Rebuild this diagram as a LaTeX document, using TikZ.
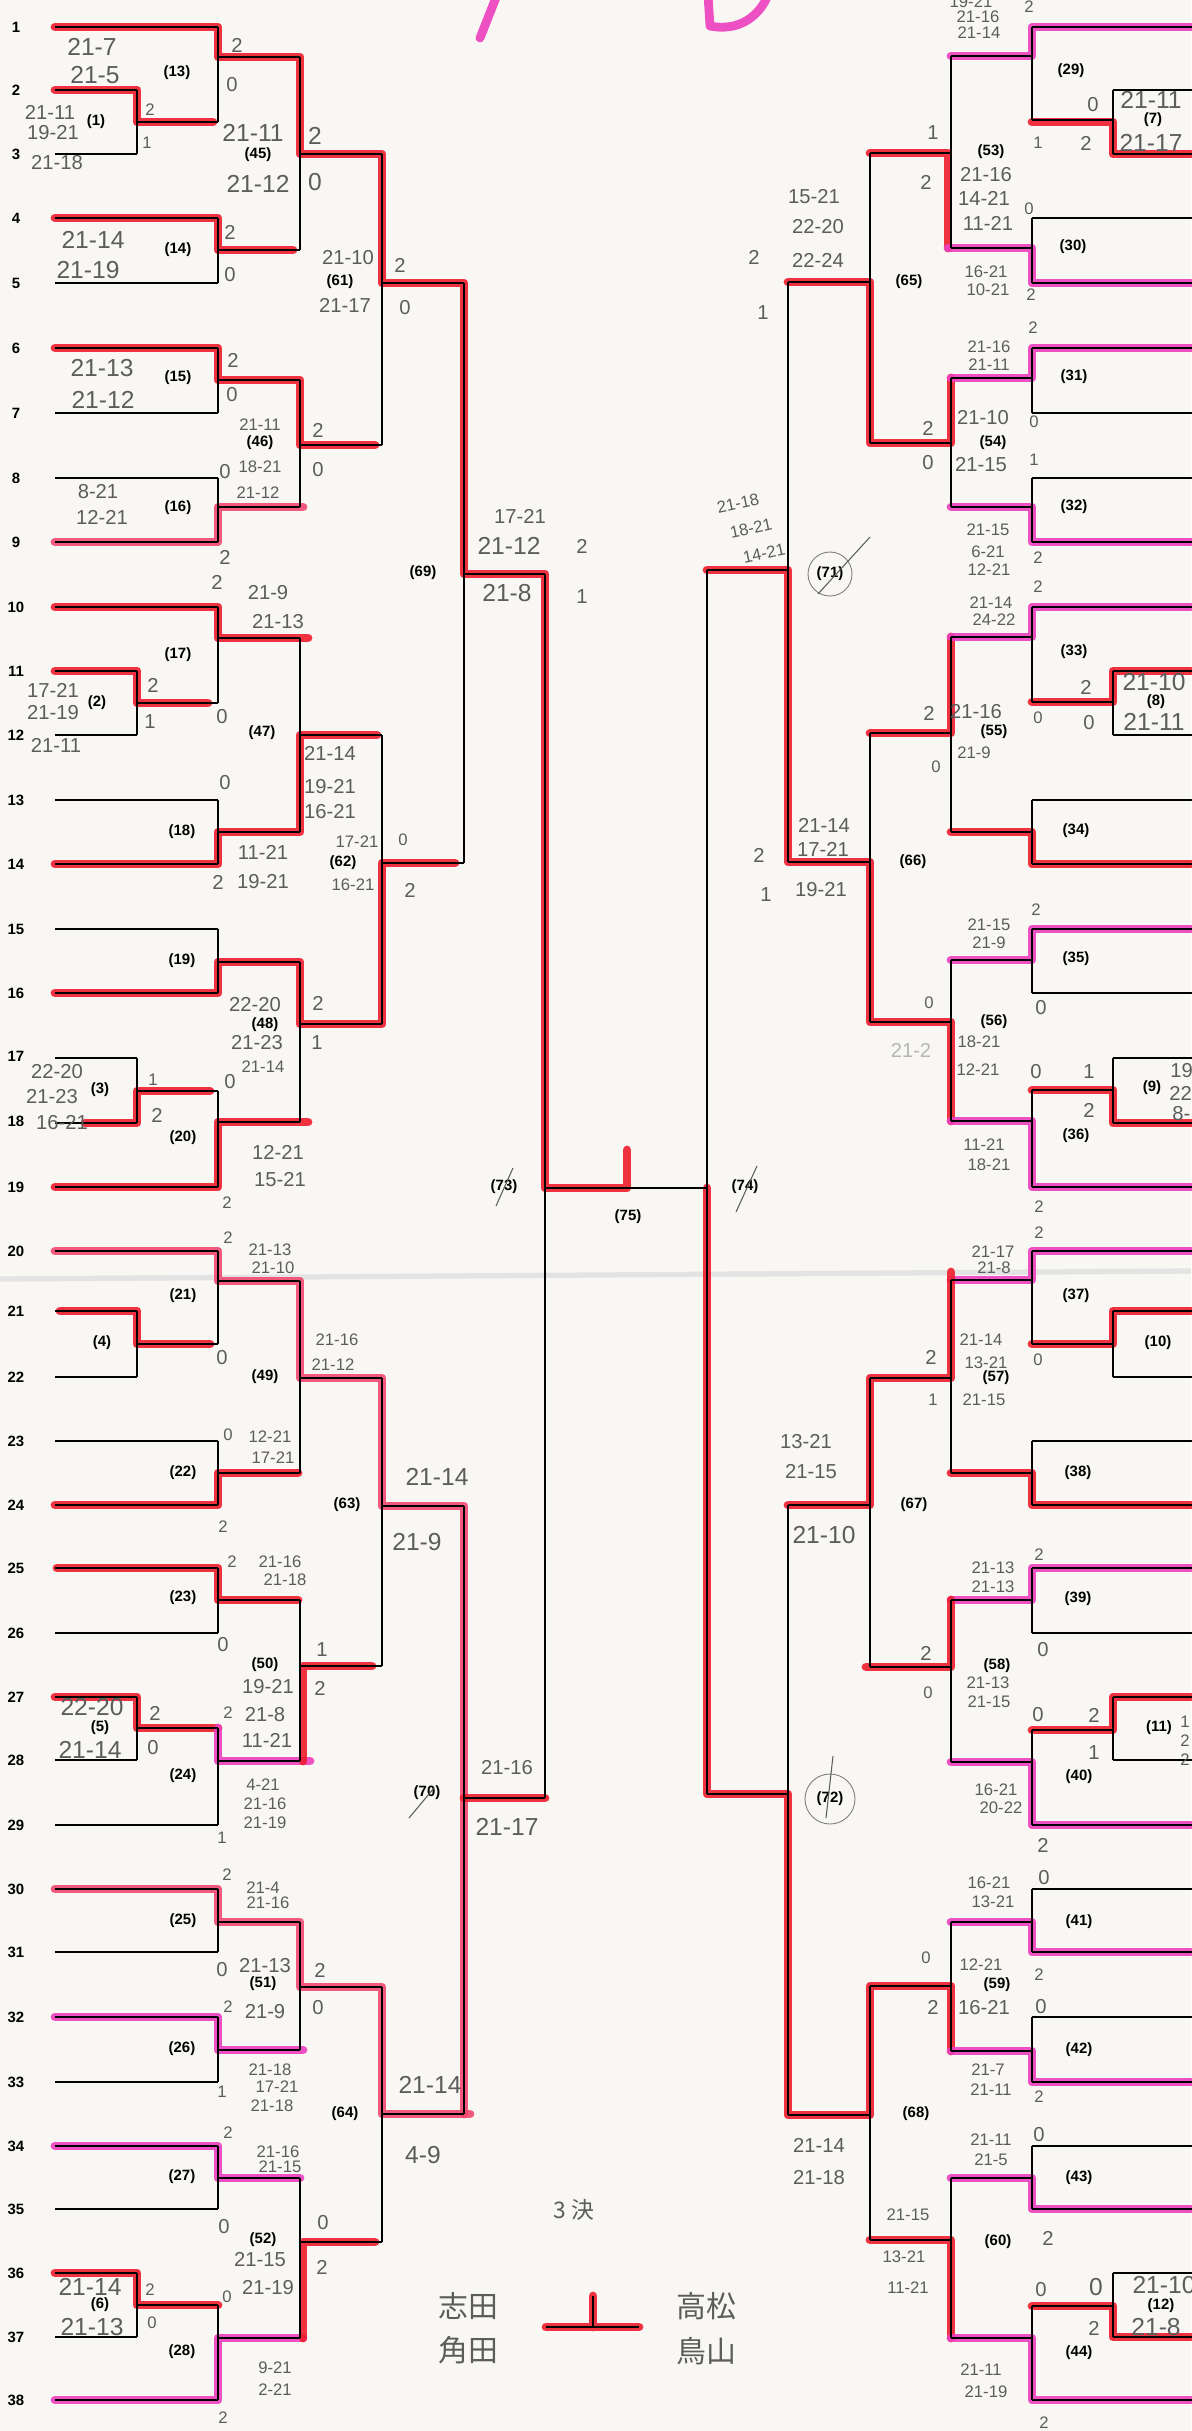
\documentclass[tikz,border=0pt]{standalone}
\usepackage{fontspec}
\setmainfont{Liberation Sans}
\newfontfamily\cjk{Noto Sans CJK JP}
\usepackage{tikz}
\usetikzlibrary{positioning, calc}
\definecolor{paper}{RGB}{248,247,243}
\definecolor{pencil}{RGB}{92,92,92}
\definecolor{hired}{RGB}{240,28,44}
\definecolor{himag}{RGB}{236,62,190}
\definecolor{hipink}{RGB}{242,72,112}
\newcounter{sc}
\newcommand\putscore[3][hwm]{\stepcounter{sc}\node[#1] (sc\arabic{sc}) at #2 {#3};}

\begin{document}
\begin{tikzpicture}[x=0.02cm, y=-0.02cm,
	br/.style={draw=black, line width=0.9pt},
	hr/.style={draw=hired, line width=5pt, line cap=round, line join=round, opacity=0.9},
	hm/.style={hr, draw=himag},
	hp/.style={hr, draw=hipink},
	rowno/.style={font=\bfseries\fontsize{8.5}{8.5}\selectfont, inner sep=0pt},
	mno/.style={font=\bfseries\fontsize{8.5}{8.5}\selectfont, inner sep=0pt},
	hwb/.style={text=pencil, font=\fontsize{14}{14}\selectfont, inner sep=0pt},
	hwm/.style={text=pencil, font=\fontsize{11.5}{11.5}\selectfont, inner sep=0pt},
	hws/.style={text=pencil, font=\fontsize{9.5}{9.5}\selectfont, inner sep=0pt},
	cjkt/.style={text=pencil, font=\cjk\fontsize{17}{17}\selectfont, inner sep=0pt}
	]
	\fill[paper] (0,0) rectangle (1191,2431);
	\useasboundingbox (0,0) rectangle (1191,2431);
	% fold of the sheet
	\draw[gray!22, line width=3pt] (0,1279) -- (1191,1271);

	% highlighted paths, left half
	\draw[hr] (55,27) -- (218,27) -- (218,57) -- (300,57) -- (300,154) -- (382,154) -- (382,283) -- (464,283) -- (464,574) -- (545,574) -- (545,1188) -- (627,1188) -- (627,1150);
	\draw[hr] (55,90) -- (137,90) -- (137,122) -- (213,122);
	\draw[hr] (55,218) -- (218,218) -- (218,250) -- (293,250);
	\draw[hr] (55,348) -- (218,348) -- (218,380) -- (300,380) -- (300,445) -- (375,445);
	\draw[hp] (55,542) -- (218,542) -- (218,507) -- (303,507);
	\draw[hr] (55,607) -- (218,607) -- (218,638) -- (308,638);
	\draw[hr] (55,671) -- (137,671) -- (137,703) -- (208,703);
	\draw[hr] (55,864) -- (218,864) -- (218,832) -- (300,832) -- (300,735) -- (377,735);
	\draw[hr] (55,993) -- (218,993) -- (218,962) -- (300,962) -- (300,1024) -- (382,1024) -- (382,863) -- (455,863);
	\draw[hr] (85,1123) -- (137,1123) -- (137,1091) -- (210,1091);
	\draw[hr] (55,1187) -- (218,1187) -- (218,1122) -- (308,1122);
	\draw[hp] (55,1251) -- (218,1251) -- (218,1281) -- (300,1281) -- (300,1378) -- (382,1378) -- (382,1506) -- (464,1506) -- (464,2114);
	\draw[hr] (464,1798) -- (545,1798);
	\draw[hr] (60,1311) -- (137,1311) -- (137,1344) -- (210,1344);
	\draw[hr] (55,1505) -- (218,1505) -- (218,1473) -- (298,1473);
	\draw[hr] (57,1568) -- (218,1568) -- (218,1600) -- (298,1600);
	\draw[hr] (55,1697) -- (137,1697) -- (137,1728) -- (218,1728);
	\draw[hm] (218,1728) -- (218,1761) -- (310,1761);
	\draw[hr] (303,1761) -- (303,1666) -- (372,1666);
	\draw[hp] (55,1889) -- (218,1889) -- (218,1922) -- (300,1922) -- (300,1987) -- (382,1987) -- (382,2114) -- (470,2114);
	\draw[hm] (55,2017) -- (218,2017) -- (218,2050) -- (303,2050);
	\draw[hm] (55,2146) -- (218,2146) -- (218,2178) -- (300,2178);
	\draw[hr] (55,2273) -- (137,2273) -- (137,2305) -- (218,2305);
	\draw[hm] (55,2400) -- (218,2400) -- (218,2338) -- (303,2338);
	\draw[hr] (303,2338) -- (303,2242) -- (375,2242);

	% highlighted paths, right half
	\draw[hm] (1200,27) -- (1032,27) -- (1032,56) -- (951,56);
	\draw[hr] (1200,154) -- (1113,154) -- (1113,122) -- (1032,122);
	\draw[hr] (870,153) -- (948,153) -- (948,248);
	\draw[hm] (948,248) -- (1032,248) -- (1032,283) -- (1200,283);
	\draw[hr] (788,282) -- (870,282) -- (870,443) -- (951,443) -- (951,378);
	\draw[hm] (951,378) -- (1032,378) -- (1032,348) -- (1200,348);
	\draw[hm] (951,507) -- (1032,507) -- (1032,542) -- (1200,542);
	\draw[hr] (707,570) -- (788,570) -- (788,862) -- (870,862) -- (870,1022) -- (951,1022) -- (951,1121);
	\draw[hm] (951,1121) -- (1032,1121) -- (1032,1187) -- (1200,1187);
	\draw[hr] (870,733) -- (951,733) -- (951,637);
	\draw[hm] (951,637) -- (1032,637) -- (1032,607) -- (1200,607);
	\draw[hr] (1200,671) -- (1113,671) -- (1113,702) -- (1032,702);
	\draw[hr] (951,832) -- (1032,832) -- (1032,864) -- (1200,864);
	\draw[hm] (951,960) -- (1032,960) -- (1032,929) -- (1200,929);
	\draw[hr] (1032,1090) -- (1113,1090) -- (1113,1123) -- (1200,1123);
	\draw[hm] (951,1280) -- (1032,1280) -- (1032,1251) -- (1200,1251);
	\draw[hr] (951,1272) -- (951,1378) -- (870,1378) -- (870,1505) -- (788,1505);
	\draw[hr] (1032,1344) -- (1113,1344) -- (1113,1311) -- (1200,1311);
	\draw[hr] (951,1473) -- (1032,1473) -- (1032,1505) -- (1200,1505);
	\draw[hm] (951,1600) -- (1032,1600) -- (1032,1568) -- (1200,1568);
	\draw[hr] (866,1667) -- (951,1667) -- (951,1600);
	\draw[hr] (1032,1730) -- (1113,1730) -- (1113,1697) -- (1200,1697);
	\draw[hm] (951,1762) -- (1032,1762) -- (1032,1825) -- (1200,1825);
	\draw[hr] (707,1188) -- (707,1794) -- (788,1794) -- (788,2115) -- (870,2115) -- (870,1986) -- (951,1986) -- (951,2051);
	\draw[hm] (951,2051) -- (1032,2051) -- (1032,2082) -- (1200,2082);
	\draw[hm] (951,1922) -- (1032,1922) -- (1032,1952) -- (1200,1952);
	\draw[hm] (951,2178) -- (1032,2178) -- (1032,2209) -- (1200,2209);
	\draw[hr] (870,2240) -- (951,2240) -- (951,2338);
	\draw[hm] (951,2338) -- (1032,2338) -- (1032,2400) -- (1200,2400);
	\draw[hr] (1032,2306) -- (1113,2306) -- (1113,2337) -- (1200,2337);

	% pink marks at the top
	\draw[hm, line width=5pt] (497,-5) -- (480,38);
	\draw[hm, line width=5pt] (708,-5) -- (710,26) .. controls (740,32) and (760,15) .. (768,-5);

	% player lines
	\foreach \y in {27,218,283,348,413,478,542,607,800,864,929,993,1187,1251,1441,1505,1568,1633,1825,1889,1952,2017,2082,2146,2209,2400}
		{\draw[br] (55,\y) -- (218,\y); \draw[br] (1032,\y) -- (1200,\y);}
	\foreach \y in {90,154,671,735,1058,1123,1311,1377,1697,1760,2273,2337}
		{\draw[br] (55,\y) -- (137,\y); \draw[br] (1113,\y) -- (1200,\y);}

	% bracket joints: x / top / bottom / out / next x
	\foreach \x/\ya/\yb/\yo/\xn in {
		137/90/154/122/218, 137/671/735/703/218, 137/1058/1123/1091/218, 137/1311/1377/1344/218, 137/1697/1760/1728/218, 137/2273/2337/2305/218,
		218/27/122/57/300, 218/218/283/250/300, 218/348/413/380/300, 218/478/542/507/300, 218/607/703/638/300, 218/800/864/832/300, 218/929/993/962/300, 218/1091/1187/1122/300,
		218/1251/1344/1281/300, 218/1441/1505/1473/300, 218/1568/1633/1600/300, 218/1728/1825/1761/300, 218/1889/1952/1922/300, 218/2017/2082/2050/300, 218/2146/2209/2178/300, 218/2305/2400/2338/300,
		300/57/250/154/382, 300/380/507/445/382, 300/638/832/735/382, 300/962/1122/1024/382, 300/1281/1473/1378/382, 300/1600/1761/1666/382, 300/1922/2050/1987/382, 300/2178/2338/2242/382,
		382/154/445/283/464, 382/735/1024/863/464, 382/1378/1666/1506/464, 382/1987/2242/2114/464,
		464/283/863/574/545, 464/1506/2114/1798/545, 545/574/1798/1188/707,
		1113/90/154/120/1032, 1113/671/735/702/1032, 1113/1058/1123/1090/1032, 1113/1311/1377/1344/1032, 1113/1697/1760/1730/1032, 1113/2273/2337/2306/1032,
		1032/27/120/56/951, 1032/218/283/248/951, 1032/348/413/378/951, 1032/478/542/507/951, 1032/607/702/637/951, 1032/800/864/832/951, 1032/929/993/960/951, 1032/1090/1187/1121/951,
		1032/1251/1344/1280/951, 1032/1441/1505/1473/951, 1032/1568/1633/1600/951, 1032/1730/1825/1762/951, 1032/1889/1952/1922/951, 1032/2017/2082/2051/951, 1032/2146/2209/2178/951, 1032/2306/2400/2338/951,
		951/56/248/153/870, 951/378/507/443/870, 951/637/832/733/870, 951/960/1121/1022/870, 951/1280/1473/1378/870, 951/1600/1762/1667/870, 951/1922/2051/1986/870, 951/2178/2338/2240/870,
		870/153/443/282/788, 870/733/1022/862/788, 870/1378/1667/1505/788, 870/1986/2240/2115/788,
		788/282/862/570/707, 788/1505/2115/1794/707, 707/570/1794/1188/545}
		\draw[br] (\x,\ya) -- (\x,\yb) (\x,\yo) -- (\xn,\yo);

	% row numbers
	\foreach \n/\y in {1/27,2/90,3/154,4/218,5/283,6/348,7/413,8/478,9/542,10/607,11/671,12/735,13/800,14/864,15/929,16/993,17/1056,18/1121,19/1187,
		20/1251,21/1311,22/1377,23/1441,24/1505,25/1568,26/1633,27/1697,28/1760,29/1825,30/1889,31/1952,32/2017,33/2082,34/2146,35/2209,36/2273,37/2337,38/2400}
		\node[rowno] (row\n) at (16,\y) {\n};

	% match numbers
	\foreach \m/\x/\y in {1/96/122, 2/97/703, 3/100/1090, 4/102/1343, 5/100/1728, 6/100/2305,
		13/177/73, 14/178/250, 15/178/378, 16/178/508, 17/178/655, 18/182/832, 19/182/961, 20/183/1138,
		21/183/1296, 22/183/1473, 23/183/1598, 24/183/1776, 25/183/1921, 26/182/2049, 27/182/2177, 28/182/2352,
		45/258/155, 46/260/443, 47/262/733, 48/265/1025, 49/265/1377, 50/265/1665, 51/263/1984, 52/263/2240,
		61/340/282, 62/343/863, 63/347/1505, 64/345/2114, 69/423/573, 70/427/1793, 73/504/1187, 75/628/1217,
		7/1153/120, 8/1156/702, 9/1152/1088, 10/1158/1343, 11/1159/1728, 12/1161/2306,
		29/1071/71, 30/1073/247, 31/1074/377, 32/1074/507, 33/1074/652, 34/1076/831, 35/1076/959, 36/1076/1136,
		37/1076/1296, 38/1078/1473, 39/1078/1599, 40/1079/1777, 41/1079/1922, 42/1079/2050, 43/1079/2178, 44/1079/2353,
		53/991/152, 54/993/443, 55/994/732, 56/994/1022, 57/996/1378, 58/997/1666, 59/997/1985, 60/998/2242,
		65/909/282, 66/913/862, 67/914/1505, 68/916/2114, 71/830/574, 72/830/1799, 74/745/1187}
		\node[mno] (m\m) at (\x,\y) {(\m)};
	\draw[pencil, line width=0.6pt] (496,1206) -- (513,1168);
	\draw[pencil, line width=0.6pt] (736,1212) -- (757,1166);
	\draw[pencil, line width=0.6pt] (409,1818) -- (434,1788);
	\draw[pencil!80, line width=0.5pt] (m71) circle [radius=22];
	\draw[pencil, line width=0.6pt] (818,594) -- (870,537);
	\draw[pencil!80, line width=0.5pt] (m72) circle [radius=25];
	\draw[pencil, line width=0.6pt] (833,1756) -- (826,1818);

	% scores, left half
	\putscore[hwb]{(92,47)}{21-7} \putscore[hwb]{(95,75)}{21-5} \putscore{(237,45)}{2} \putscore{(232,85)}{0}
	\putscore{(50,112)}{21-11} \putscore{(53,133)}{19-21} \putscore{(57,163)}{21-18} \putscore[hws]{(150,110)}{2} \putscore[hws]{(147,143)}{1}
	\putscore[hwb]{(253,133)}{21-11} \putscore[hwb]{(258,184)}{21-12} \putscore[hwb]{(315,136)}{2} \putscore[hwb]{(315,182)}{0}
	\putscore[hwb]{(93,240)}{21-14} \putscore[hwb]{(88,270)}{21-19} \putscore{(230,232)}{2} \putscore{(230,275)}{0}
	\putscore{(348,258)}{21-10} \putscore{(345,305)}{21-17} \putscore{(400,265)}{2} \putscore{(405,308)}{0}
	\putscore[hwb]{(102,368)}{21-13} \putscore[hwb]{(103,400)}{21-12} \putscore{(233,360)}{2} \putscore{(232,395)}{0}
	\putscore[hws]{(260,425)}{21-11} \putscore[hws]{(260,467)}{18-21} \putscore[hws]{(258,493)}{21-12} \putscore{(225,472)}{0} \putscore{(318,430)}{2} \putscore{(318,470)}{0}
	\putscore{(98,492)}{8-21} \putscore{(102,517)}{12-21} \putscore{(225,557)}{2}
	\putscore{(217,582)}{2} \putscore{(268,593)}{21-9} \putscore{(278,622)}{21-13} \putscore{(222,717)}{0}
	\putscore{(53,690)}{17-21} \putscore{(53,713)}{21-19} \putscore{(56,745)}{21-11} \putscore{(153,685)}{2} \putscore{(150,722)}{1}
	\putscore{(330,753)}{21-14} \putscore{(330,787)}{19-21} \putscore{(330,812)}{16-21} \putscore{(225,783)}{0}
	\putscore{(263,852)}{11-21} \putscore{(218,882)}{2} \putscore{(263,882)}{19-21}
	\putscore[hws]{(357,842)}{17-21} \putscore[hws]{(353,885)}{16-21} \putscore[hws]{(403,840)}{0} \putscore{(410,890)}{2}
	\putscore{(255,1005)}{22-20} \putscore{(257,1043)}{21-23} \putscore[hws]{(263,1067)}{21-14} \putscore{(230,1082)}{0} \putscore{(318,1003)}{2} \putscore{(317,1043)}{1}
	\putscore{(57,1072)}{22-20} \putscore{(52,1097)}{21-23} \putscore{(62,1123)}{16-21} \putscore[hws]{(153,1080)}{1} \putscore{(157,1115)}{2}
	\putscore{(278,1152)}{12-21} \putscore{(280,1180)}{15-21} \putscore[hws]{(227,1203)}{2}
	\putscore[hws]{(228,1238)}{2} \putscore[hws]{(270,1250)}{21-13} \putscore[hws]{(273,1268)}{21-10} \putscore{(222,1358)}{0}
	\putscore[hws]{(337,1340)}{21-16} \putscore[hws]{(333,1365)}{21-12}
	\putscore[hws]{(228,1435)}{0} \putscore[hws]{(270,1437)}{12-21} \putscore[hws]{(273,1458)}{17-21} \putscore[hws]{(223,1527)}{2}
	\putscore[hwb]{(437,1477)}{21-14} \putscore[hwb]{(417,1542)}{21-9}
	\putscore[hws]{(232,1562)}{2} \putscore[hws]{(280,1562)}{21-16} \putscore[hws]{(285,1580)}{21-18} \putscore{(223,1645)}{0}
	\putscore{(322,1650)}{1} \putscore{(320,1688)}{2} \putscore{(268,1687)}{19-21} \putscore[hws]{(228,1713)}{2} \putscore{(265,1715)}{21-8} \putscore{(267,1740)}{11-21}
	\putscore[hwb]{(92,1707)}{22-20} \putscore[hwb]{(90,1750)}{21-14} \putscore{(155,1713)}{2} \putscore{(153,1748)}{0}
	\putscore[hws]{(263,1785)}{4-21} \putscore[hws]{(265,1804)}{21-16} \putscore[hws]{(265,1823)}{21-19} \putscore[hws]{(222,1838)}{1}
	\putscore[hws]{(227,1875)}{2} \putscore[hws]{(263,1888)}{21-4} \putscore[hws]{(268,1903)}{21-16}
	\putscore{(222,1970)}{0} \putscore{(265,1966)}{21-13} \putscore{(320,1970)}{2} \putscore{(318,2008)}{0} \putscore[hws]{(228,2007)}{2} \putscore{(265,2012)}{21-9}
	\putscore[hws]{(270,2070)}{21-18} \putscore[hws]{(277,2087)}{17-21} \putscore[hws]{(272,2106)}{21-18} \putscore[hws]{(222,2092)}{1}
	\putscore[hwb]{(430,2085)}{21-14} \putscore[hwb]{(423,2155)}{4-9}
	\putscore[hws]{(228,2133)}{2} \putscore[hws]{(278,2152)}{21-16} \putscore[hws]{(280,2167)}{21-15} \putscore{(224,2227)}{0}
	\putscore{(323,2223)}{0} \putscore{(260,2260)}{21-15} \putscore[hws]{(227,2297)}{0} \putscore{(268,2288)}{21-19} \putscore{(322,2267)}{2}
	\putscore[hwb]{(90,2287)}{21-14} \putscore[hwb]{(92,2327)}{21-13} \putscore[hws]{(150,2290)}{2} \putscore[hws]{(152,2323)}{0}
	\putscore[hws]{(275,2368)}{9-21} \putscore[hws]{(275,2390)}{2-21} \putscore[hws]{(223,2418)}{2}
	\putscore{(520,516)}{17-21} \putscore[hwb]{(509,546)}{21-12} \putscore{(582,546)}{2} \putscore[hwb]{(507,593)}{21-8} \putscore{(582,597)}{1}
	\putscore{(507,1768)}{21-16} \putscore[hwb]{(507,1827)}{21-17}

	% scores, right half
	\putscore[hws]{(971,2)}{19-21} \putscore[hws]{(978,17)}{21-16} \putscore[hws]{(979,33)}{21-14} \putscore[hws]{(1029,7)}{2}
	\putscore{(1093,105)}{0} \putscore[hws]{(1038,143)}{1} \putscore{(1086,143)}{2}
	\putscore[hwb]{(1151,100)}{21-11} \putscore[hwb]{(1151,143)}{21-17}
	\putscore{(933,133)}{1} \putscore{(926,182)}{2} \putscore{(986,175)}{21-16} \putscore{(984,198)}{14-21} \putscore{(988,223)}{11-21} \putscore[hws]{(1029,209)}{0}
	\putscore[hws]{(986,272)}{16-21} \putscore[hws]{(988,290)}{10-21} \putscore[hws]{(1031,295)}{2}
	\putscore{(814,197)}{15-21} \putscore{(818,227)}{22-20} \putscore{(754,257)}{2} \putscore{(818,260)}{22-24} \putscore{(763,313)}{1}
	\putscore[hws]{(1033,328)}{2} \putscore[hws]{(989,347)}{21-16} \putscore[hws]{(989,365)}{21-11}
	\putscore{(983,418)}{21-10} \putscore{(928,428)}{2} \putscore{(928,463)}{0} \putscore{(981,465)}{21-15} \putscore[hws]{(1034,422)}{0} \putscore[hws]{(1034,460)}{1}
	\putscore[hws]{(988,530)}{21-15} \putscore[hws]{(988,552)}{6-21} \putscore[hws]{(989,570)}{12-21} \putscore[hws]{(1038,558)}{2}
	\putscore[hws, rotate=12]{(738,503)}{21-18} \putscore[hws, rotate=12]{(751,528)}{18-21} \putscore[hws, rotate=12]{(764,553)}{14-21}
	\putscore[hws]{(1038,587)}{2} \putscore[hws]{(991,603)}{21-14} \putscore[hws]{(994,620)}{24-22}
	\putscore{(1086,687)}{2} \putscore[hws]{(1038,718)}{0} \putscore{(1089,723)}{0} \putscore[hwb]{(1154,682)}{21-10} \putscore[hwb]{(1154,722)}{21-11}
	\putscore{(929,713)}{2} \putscore{(976,712)}{21-16} \putscore[hws]{(936,767)}{0} \putscore[hws]{(974,753)}{21-9}
	\putscore{(824,825)}{21-14} \putscore{(759,855)}{2} \putscore{(823,849)}{17-21} \putscore{(766,895)}{1} \putscore{(821,890)}{19-21}
	\putscore[hws]{(1036,910)}{2} \putscore[hws]{(989,925)}{21-15} \putscore[hws]{(989,943)}{21-9} \putscore{(1041,1008)}{0}
	\putscore[hws]{(929,1003)}{0} \putscore[hws]{(979,1042)}{18-21} \putscore[hws]{(978,1070)}{12-21} \putscore{(1036,1072)}{0} \putscore{(1089,1072)}{1} \putscore{(1089,1110)}{2}
	\putscore[hwm, text=pencil!45]{(911,1050)}{21-2}
	\putscore[hwm, anchor=west]{(1170,1071)}{19-} \putscore[hwm, anchor=west]{(1169,1093)}{22} \putscore[hwm, anchor=west]{(1172,1114)}{8-}
	\putscore[hws]{(984,1145)}{11-21} \putscore[hws]{(989,1165)}{18-21} \putscore[hws]{(1039,1207)}{2}
	\putscore[hws]{(1039,1233)}{2} \putscore[hws]{(993,1252)}{21-17} \putscore[hws]{(994,1268)}{21-8}
	\putscore{(931,1357)}{2} \putscore[hws]{(981,1340)}{21-14} \putscore[hws]{(986,1363)}{13-21} \putscore[hws]{(1038,1360)}{0} \putscore[hws]{(933,1400)}{1} \putscore[hws]{(984,1400)}{21-15}
	\putscore{(806,1442)}{13-21} \putscore{(811,1472)}{21-15} \putscore[hwb]{(824,1535)}{21-10}
	\putscore[hws]{(1039,1555)}{2} \putscore[hws]{(993,1568)}{21-13} \putscore[hws]{(993,1587)}{21-13}
	\putscore{(926,1653)}{2} \putscore[hws]{(928,1693)}{0} \putscore[hws]{(988,1683)}{21-13} \putscore[hws]{(989,1702)}{21-15}
	\putscore{(1043,1650)}{0} \putscore{(1038,1715)}{0} \putscore{(1094,1715)}{2} \putscore{(1094,1753)}{1}
	\putscore[hws, anchor=west]{(1180,1722)}{1} \putscore[hws, anchor=west]{(1180,1741)}{2} \putscore[hws, anchor=west]{(1180,1760)}{2}
	\putscore[hws]{(996,1790)}{16-21} \putscore[hws]{(1001,1808)}{20-22} \putscore{(1043,1845)}{2}
	\putscore[hws]{(989,1883)}{16-21} \putscore[hws]{(993,1902)}{13-21} \putscore{(1044,1878)}{0}
	\putscore[hws]{(926,1958)}{0} \putscore[hws]{(981,1965)}{12-21} \putscore[hws]{(1039,1975)}{2} \putscore{(933,2007)}{2} \putscore{(984,2008)}{16-21} \putscore{(1041,2007)}{0}
	\putscore[hws]{(988,2070)}{21-7} \putscore[hws]{(991,2090)}{21-11} \putscore[hws]{(1039,2097)}{2}
	\putscore{(819,2145)}{21-14} \putscore{(819,2178)}{21-18}
	\putscore{(1039,2135)}{0} \putscore[hws]{(991,2140)}{21-11} \putscore[hws]{(991,2160)}{21-5}
	\putscore[hws]{(908,2215)}{21-15} \putscore[hws]{(904,2257)}{13-21} \putscore[hws]{(908,2288)}{11-21} \putscore{(1048,2238)}{2}
	\putscore{(1041,2290)}{0} \putscore[hwb]{(1096,2287)}{0} \putscore{(1094,2328)}{2} \putscore[hwb]{(1164,2285)}{21-10} \putscore[hwb]{(1156,2327)}{21-8}
	\putscore[hws]{(981,2370)}{21-11} \putscore[hws]{(986,2392)}{21-19} \putscore[hws]{(1044,2423)}{2}

	% third place match
	\node[cjkt, font=\cjk\fontsize{13}{13}\selectfont] (third) at (574,2210) {3 決};
	\node[cjkt] (shida) at (468,2306) {志田};
	\node[cjkt] (kakuta) at (468,2350) {角田};
	\node[cjkt] (takamatsu) at (706,2306) {高松};
	\node[cjkt] (toriyama) at (706,2351) {鳥山};
	\coordinate (tpl) at (546,2327);
	\coordinate (tpr) at (639,2327);
	\coordinate (tpt) at (593,2296);
	\draw[hr] (tpl) -- (tpr) (tpt) -- (tpt |- tpl);
	\draw[br] (tpl) -- (tpr) (tpt) -- (tpt |- tpl);
\end{tikzpicture}
\end{document}
